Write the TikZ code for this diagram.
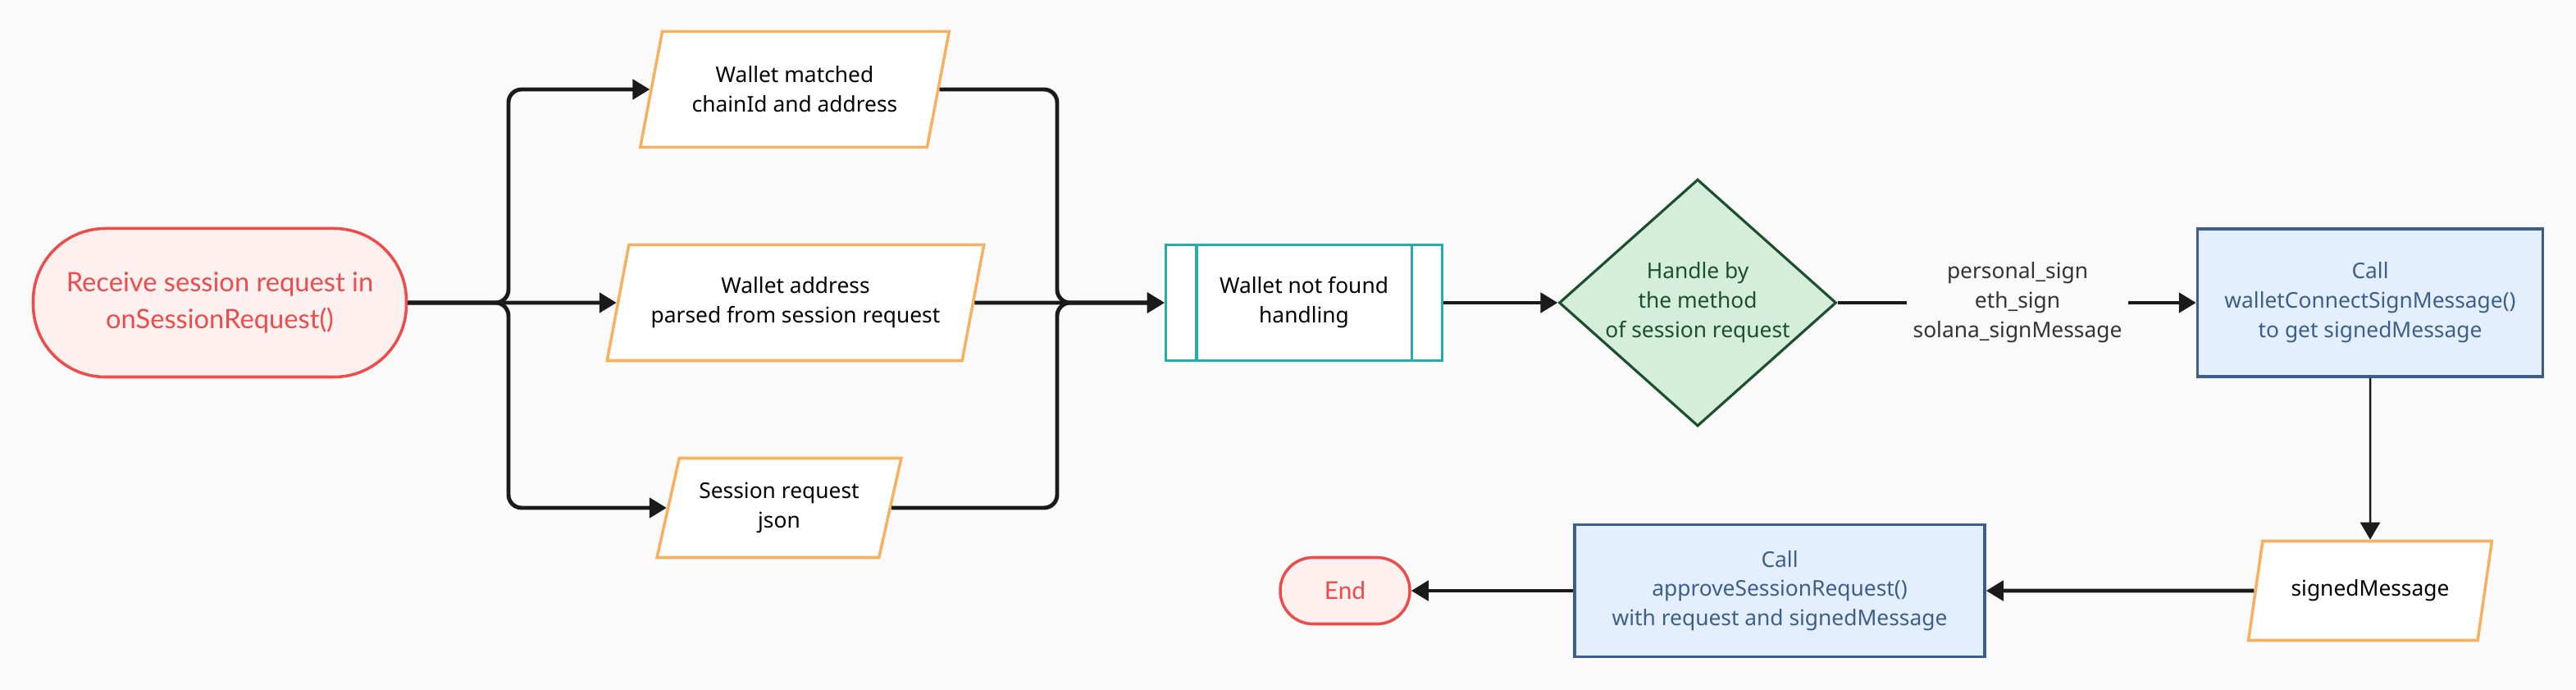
\documentclass[tikz,border=0pt]{standalone}
\usepackage{fontspec}
\setmainfont{Noto Sans}
\newfontfamily\latofont{Lato}
\usetikzlibrary{shapes.geometric,arrows.meta}
\definecolor{bgcol}{HTML}{FAFAFA}
\definecolor{termred}{HTML}{EE4B4B}
\definecolor{termfill}{HTML}{FFF0F0}
\definecolor{dataorange}{HTML}{F7B15E}
\definecolor{procteal}{HTML}{25ADAD}
\definecolor{decgreen}{HTML}{1C4F2C}
\definecolor{decfill}{HTML}{D5EDDB}
\definecolor{callblue}{HTML}{3D5E88}
\definecolor{callfill}{HTML}{E3EEFE}
\definecolor{linecol}{HTML}{1A1A1A}
\tikzset{
	start node/.style={rectangle, rounded corners=0.88cm, draw=termred, fill=termfill, text=termred, line width=1pt, align=center, font=\latofont\fontsize{9.3}{12.8}\selectfont},
	data node/.style={trapezium, trapezium left angle=74, trapezium right angle=106, trapezium stretches=true, draw=dataorange, fill=white, line width=1pt, align=center},
	process node/.style={rectangle, draw=procteal, fill=white, line width=1pt, align=center},
	decision node/.style={diamond, aspect=1.12, draw=decgreen, fill=decfill, text=decgreen, line width=0.9pt, align=center, inner sep=-0.05cm},
	call node/.style={rectangle, draw=callblue, fill=callfill, text=callblue, line width=1pt, align=center},
	flow line/.style={draw=linecol, line width=1.4pt, -{Triangle[length=2.1mm, width=2.4mm]}},
	plain line/.style={draw=linecol, line width=1.4pt},
}

\begin{document}
\begin{tikzpicture}[font=\fontsize{7.5}{10.2}\selectfont]
  \useasboundingbox[fill=bgcol] (0,0) rectangle (31.41,-8.41);

  % nodes
  \node (start)[start node, minimum width=4.55cm, minimum height=1.81cm] at (2.68,-3.69) {Receive session request in\\onSessionRequest()};
  \node (wm)[data node, minimum width=3.80cm, minimum height=1.41cm] at (9.69,-1.09) {Wallet matched\\chainId and address};
  \node (wa)[data node, minimum width=4.60cm, minimum height=1.41cm] at (9.70,-3.69) {Wallet address\\parsed from session request};
  \node (sj)[data node, minimum width=2.99cm, minimum height=1.21cm] at (9.50,-6.19) {Session request\\json};
  \node (nf)[process node, minimum width=3.37cm, minimum height=1.41cm] at (15.90,-3.69) {Wallet not found\\handling};
  \node (hd)[decision node, minimum width=3.38cm, minimum height=3.01cm] at (20.70,-3.69) {Handle by\\the method\\of session request};
  \node (ml)[text=black!80, align=center, inner sep=0.07cm] at (24.60,-3.69) {personal\_sign\\eth\_sign\\solana\_signMessage};
  \node (wc)[call node, minimum width=4.21cm, minimum height=1.80cm] at (28.90,-3.69) {Call\\walletConnectSignMessage()\\to get signedMessage};
  \node (sm)[data node, minimum width=2.98cm, minimum height=1.21cm] at (28.90,-7.20) {signedMessage};
  \node (ap)[call node, minimum width=5.00cm, minimum height=1.61cm] at (21.70,-7.20) {Call\\approveSessionRequest()\\with request and signedMessage};
  \node (en)[start node, rounded corners=0.4cm, font=\latofont\fontsize{8.5}{10}\selectfont, minimum width=1.58cm, minimum height=0.81cm] at (16.40,-7.20) {End};

  % inner bars of the process box
  \draw[procteal, line width=1pt] ([xshift=0.39cm]nf.north west) -- ([xshift=0.39cm]nf.south west);
  \draw[procteal, line width=1pt] ([xshift=-0.39cm]nf.north east) -- ([xshift=-0.39cm]nf.south east);

  % split and merge
  \coordinate (split) at (6.20,-3.69);
  \coordinate (merge) at (12.89,-3.69);
  \draw[flow line, rounded corners=0.16cm] (start.east) -- (split) |- (wm.west);
  \draw[flow line] (start.east) -- (wa.west);
  \draw[flow line, rounded corners=0.16cm] (start.east) -- (split) |- (sj.west);
  \draw[flow line, rounded corners=0.16cm] (wm.east) -| (merge) -- (nf.west);
  \draw[flow line] (wa.east) -- (nf.west);
  \draw[flow line, rounded corners=0.16cm] (sj.east) -| (merge) -- (nf.west);

  \draw[flow line] (nf.east) -- (hd.west);
  \draw[plain line] (hd.east) -- (ml.west);
  \draw[flow line] (ml.east) -- (wc.west);
  \draw[flow line, line width=0.7pt] (wc.south) -- (sm.north);
  \draw[flow line] (sm.west) -- (ap.east);
  \draw[flow line] (ap.west) -- (en.east);
\end{tikzpicture}
\end{document}
